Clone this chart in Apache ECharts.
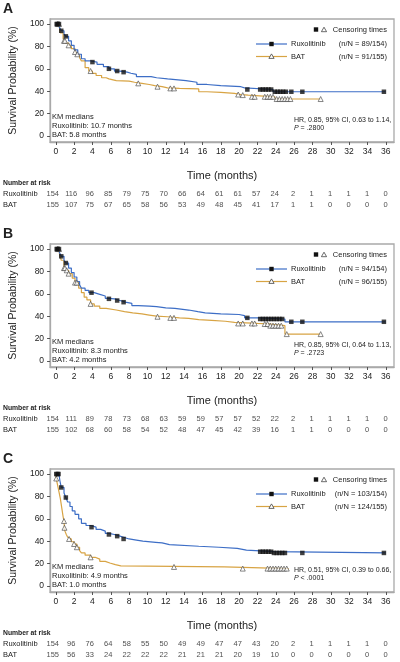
<!DOCTYPE html>
<html><head><meta charset="utf-8">
<script src="https://cdn.jsdelivr.net/npm/echarts@6/dist/echarts.min.js"></script>
<style>html,body{margin:0;padding:0;background:#fff}#c{width:400px;height:662px}</style>
</head><body><div id="c"></div>
<script>
// ---------- data ----------
const months = [0,2,4,6,8,10,12,14,16,18,20,22,24,26,28,30,32,34,36];
const yTicks = [0,20,40,60,80,100];
const panelLetters = ['A','B','C'];

// Panel A (Kaplan-Meier step points: [month, survival %])
const ruxCurveA = [[0,100],[0.4,97],[0.6,94],[0.9,91],[1.1,89],[1.4,85],[1.7,81],[2.0,77],[2.4,73],[2.8,69],[3.2,67],[3.8,66],[4.5,64],[5.2,62],[5.8,60],[6.4,58],[7.0,57],[7.8,56],[8.2,55],[8.8,53],[10.4,52],[11.0,51],[12.2,49.5],[14.2,48],[15.4,46],[16.5,45],[18.0,44],[20.2,43],[20.6,41.5],[23.7,39.5],[36,39.5]];
const batCurveA = [[0,100],[0.4,97],[0.5,92],[0.8,87],[0.9,85],[1.1,83],[1.4,81],[1.7,78],[2.1,75],[2.3,73],[2.6,70],[2.8,67],[3.2,61],[3.6,58],[4.0,56],[4.4,54],[5.0,52],[5.5,51],[5.8,49.5],[6.6,49],[8.0,48],[8.6,47],[9.4,46],[10.2,45],[10.8,44],[11.6,43],[12.2,42.5],[13.5,42],[15.6,39.5],[16.5,39],[18.0,38],[19.5,37],[20.2,36.5],[21.0,35],[23.9,33],[28.9,33]];
const ruxCensorA = [0.1,0.2,0.35,0.6,1.1,4.0,5.8,6.7,7.4,20.9,22.3,22.6,22.9,23.2,23.5,23.9,24.2,24.5,24.8,25.1,25.7,26.9,35.8];
const batCensorA = [0.2,0.35,0.9,1.0,1.4,2.1,2.35,3.8,9.0,11.1,12.5,12.9,19.9,20.4,21.4,21.7,22.8,23.1,23.4,23.7,24.1,24.4,24.7,25.0,25.3,25.6,28.9];
const ruxRiskA = [154,116,96,85,79,75,70,66,64,61,61,57,24,2,1,1,1,1,0];
const batRiskA = [155,107,75,67,65,58,56,53,49,48,45,41,17,1,1,0,0,0,0];

// Panel B
const ruxCurveB = [[0,100],[0.4,97],[0.6,93.5],[0.9,90],[1.1,87.5],[1.4,83],[1.7,79],[2.0,75],[2.3,71],[2.6,68],[2.8,65],[3.2,63],[3.6,61],[4.2,59.5],[4.8,58],[5.4,56],[5.8,55.5],[6.4,54],[7.0,52.5],[7.6,51.5],[8.3,49.5],[9.0,49],[10.2,48.5],[11.0,47.5],[12.0,47],[13.0,45.5],[14.5,44],[15.5,43],[16.3,42],[18.0,41.5],[20.0,40.5],[20.6,38.5],[22.2,37.5],[25.0,35],[36,35]];
const batCurveB = [[0,100],[0.4,96],[0.6,90],[0.9,83],[1.1,81],[1.4,78],[1.8,74],[2.1,70],[2.5,65],[2.8,61],[3.1,57],[3.4,54.5],[3.8,51],[4.2,49],[4.8,47],[5.5,45.5],[6.6,44],[7.5,43],[8.4,42],[9.4,41],[10.2,40],[11.0,39.5],[12.2,38.5],[13.5,38],[14.5,37],[15.6,36.3],[17.0,35.5],[18.5,34.5],[19.5,33.5],[22.0,33],[23.4,31.5],[25.0,24],[28.9,24]];
const ruxCensorB = [0.1,0.2,0.35,0.6,1.1,3.9,5.8,6.7,7.4,20.9,22.3,22.6,22.9,23.2,23.5,23.8,24.1,24.4,24.7,25.7,26.9,35.8];
const batCensorB = [0.2,0.35,0.9,1.0,1.2,1.4,2.1,2.3,3.8,11.1,12.5,12.9,19.9,20.4,21.4,21.7,22.8,23.1,23.4,23.7,24.0,24.3,24.6,25.2,28.9];
const ruxRiskB = [154,111,89,78,73,68,63,59,59,57,57,52,22,2,1,1,1,1,0];
const batRiskB = [155,102,68,60,58,54,52,48,47,45,42,39,16,1,1,0,0,0,0];

// Panel C
const ruxCurveC = [[0,100],[0.35,99],[0.45,94],[0.6,88],[0.9,83],[1.1,79],[1.3,75],[1.55,71],[1.8,67],[2.1,64],[2.5,60],[2.8,56],[3.3,54],[3.8,52.5],[4.4,50.5],[4.9,49],[5.4,47],[5.8,46],[6.4,44.5],[7.0,43.5],[7.4,42],[8.0,41],[8.8,40],[9.5,39],[10.9,38.5],[11.6,37],[12.4,35.5],[15.6,34.6],[17.8,33.6],[19.8,32],[20.8,30.6],[23.8,29.5],[36,29.5]];
const batCurveC = [[0,100],[0.05,96],[0.2,90],[0.35,84],[0.5,78],[0.65,70],[0.8,62],[0.9,58],[0.95,52],[1.0,49],[1.15,46],[1.3,43.5],[1.45,42],[1.7,39.5],[2.0,37.5],[2.3,34.6],[2.6,31.5],[2.8,29.5],[3.2,27.5],[3.8,25.6],[4.3,24],[4.8,22],[5.4,20.5],[5.9,19],[6.5,18],[7.1,17],[18.4,15.5],[25.4,15.5]];
const ruxCensorC = [0.05,0.2,0.3,0.6,1.1,3.9,5.8,6.7,7.4,22.3,22.6,22.9,23.2,23.5,23.8,24.1,24.4,24.7,25.0,26.9,35.8];
const batCensorC = [0.05,0.9,0.95,1.45,2.0,2.3,3.8,12.9,20.4,23.1,23.4,23.7,24.0,24.3,24.6,24.9,25.2];
const ruxRiskC = [154,96,76,64,58,55,50,49,49,47,47,43,20,2,1,1,1,1,0];
const batRiskC = [155,56,33,24,22,22,22,21,21,21,20,19,10,0,0,0,0,0,0];

// Annotation texts
const ruxN = ['89/154','94/154','103/154'];
const batN = ['91/155','96/155','124/155'];
const ruxMedian = ['10.7','8.3','4.9'];
const batMedian = ['5.8','4.2','1.0'];
const hrText = ['HR, 0.85, 95% CI, 0.63 to 1.14,','HR, 0.85, 95% CI, 0.64 to 1.13,','HR, 0.51, 95% CI, 0.39 to 0.66,'];
const pText = ['= .2800','= .2723','< .0001'];

// ---------- build ----------
const FONT = "'Liberation Sans', Arial, sans-serif";
const BLUE = '#3d6ec6';
const GOLD = '#d8a444';
const TXT = '#222';
const panels = [
  {rux:ruxCurveA, bat:batCurveA, rc:ruxCensorA, bc:batCensorA, rr:ruxRiskA, br:batRiskA},
  {rux:ruxCurveB, bat:batCurveB, rc:ruxCensorB, bc:batCensorB, rr:ruxRiskB, br:batRiskB},
  {rux:ruxCurveC, bat:batCurveC, rc:ruxCensorC, bc:batCensorC, rr:ruxRiskC, br:batRiskC}
];
function S(curve, t){ let v = curve[0][1]; for (const p of curve){ if (p[0] <= t) v = p[1]; } return v; }

const XMIN = -0.62, XMAX = 36.9, YMIN = -5.4, YMAX = 104.5;
const STEP = 225;
const grids = [], xAxes = [], yAxes = [], series = [], graphic = [];

panels.forEach((P, i) => {
  const off = STEP * i;
  grids.push({left:47, width:347, top:19+off, height:123, show:true, borderColor:'#a9a9a9', borderWidth:1.3, containLabel:false});
  xAxes.push({type:'value', gridIndex:i, min:XMIN, max:XMAX,
    axisLine:{show:true, onZero:false, lineStyle:{color:'#a9a9a9', width:1.3}},
    axisTick:{show:true, length:3, customValues:months, lineStyle:{color:'#555'}},
    axisLabel:{customValues:months, fontSize:8.5, color:TXT, margin:5, fontFamily:FONT},
    splitLine:{show:false},
    name:'Time (months)', nameLocation:'middle', nameGap:28,
    nameTextStyle:{fontSize:11, color:TXT, fontFamily:FONT}});
  yAxes.push({type:'value', gridIndex:i, min:YMIN, max:YMAX,
    axisLine:{show:true, onZero:false, lineStyle:{color:'#a9a9a9', width:1.3}},
    axisTick:{show:true, length:3, customValues:yTicks, lineStyle:{color:'#555'}},
    axisLabel:{customValues:yTicks, fontSize:8.5, color:TXT, margin:6, fontFamily:FONT},
    splitLine:{show:false},
    name:'Survival Probability (%)', nameLocation:'middle', nameGap:28,
    nameTextStyle:{fontSize:10.5, color:TXT, fontFamily:FONT}});

  series.push({type:'line', xAxisIndex:i, yAxisIndex:i, step:'end', data:P.bat, showSymbol:false, symbol:'none',
    lineStyle:{color:GOLD, width:1.2}, animation:false, silent:true, z:2});
  series.push({type:'line', xAxisIndex:i, yAxisIndex:i, step:'end', data:P.rux, showSymbol:false, symbol:'none',
    lineStyle:{color:BLUE, width:1.2}, animation:false, silent:true, z:3});
  series.push({type:'scatter', xAxisIndex:i, yAxisIndex:i, data:P.bc.map(t => [t, S(P.bat, t)]),
    symbol:'triangle', symbolSize:5, itemStyle:{color:'#fff', borderColor:'#444', borderWidth:0.8}, animation:false, silent:true, z:4});
  series.push({type:'scatter', xAxisIndex:i, yAxisIndex:i, data:P.rc.map(t => [t, S(P.rux, t)]),
    symbol:'rect', symbolSize:4.5, itemStyle:{color:'#111'}, animation:false, silent:true, z:5});
});

// number-at-risk tables
panels.forEach((P, i) => {
  const off = STEP * i;
  const gi = 3 + i;
  grids.push({left:47, width:347, top:188+off, height:22, show:false});
  xAxes.push({type:'value', gridIndex:gi, min:XMIN, max:XMAX, show:false});
  yAxes.push({type:'category', gridIndex:gi, data:['BAT','Ruxolitinib'],
    axisLine:{show:false}, axisTick:{show:false}, splitLine:{show:false},
    axisLabel:{align:'left', margin:44, fontSize:7.5, color:TXT, fontFamily:FONT}});
  const mk = (arr, name) => arr.map((n, k) => [months[k], name, n]);
  [[P.rr,'Ruxolitinib'],[P.br,'BAT']].forEach(([arr,name]) => {
    series.push({type:'scatter', xAxisIndex:gi, yAxisIndex:gi, data:mk(arr,name), symbolSize:1,
      itemStyle:{color:'rgba(0,0,0,0)'}, animation:false, silent:true,
      label:{show:true, position:'inside', formatter:p => String(p.data[2]), fontSize:7.5, color:TXT, fontFamily:FONT}});
  });
});

function txt(x, y, text, opts){
  const o = Object.assign({fontSize:7.5, fontWeight:'normal', align:'left'}, opts||{});
  return {type:'text', x:x, y:y, silent:true, z:10, style:{text:text, fontSize:o.fontSize, fontWeight:o.fontWeight,
    fontFamily:FONT, fill:TXT, textAlign:o.align, align:o.align, textVerticalAlign:'middle', verticalAlign:'middle', rich:o.rich}};
}
function tri(cx, cy){
  return {type:'polygon', silent:true, z:11, shape:{points:[[cx,cy-2.6],[cx+2.6,cy+1.9],[cx-2.6,cy+1.9]]},
    style:{fill:'#fff', stroke:'#444', lineWidth:0.8}};
}
function sq(cx, cy){
  return {type:'rect', silent:true, z:11, shape:{x:cx-2.2, y:cy-2.2, width:4.4, height:4.4}, style:{fill:'#111'}};
}

panels.forEach((P, i) => {
  const off = STEP * i;
  graphic.push(txt(3, 9.5+off, panelLetters[i], {fontSize:14, fontWeight:'bold'}));
  graphic.push(txt(3, 183+off, 'Number at risk', {fontSize:6.8, fontWeight:'bold'}));
  // KM medians
  graphic.push(txt(52, 117+off, 'KM medians'));
  graphic.push(txt(52, 126+off, 'Ruxolitinib: ' + ruxMedian[i] + ' months'));
  graphic.push(txt(52, 135+off, 'BAT: ' + batMedian[i] + ' months'));
  // HR
  graphic.push(txt(294, 120+off, hrText[i], {fontSize:7}));
  graphic.push(txt(294, 128.5+off, '{i|P} ' + pText[i], {fontSize:7, rich:{i:{fontStyle:'italic', fontSize:7, fontFamily:FONT, fill:TXT}}}));
  // legend
  graphic.push(sq(316, 29.5+off));
  graphic.push(tri(324, 29.8+off));
  graphic.push(txt(387, 29.5+off, 'Censoring times', {align:'right'}));
  graphic.push({type:'line', silent:true, z:10, shape:{x1:256, y1:44+off, x2:287, y2:44+off}, style:{stroke:BLUE, lineWidth:1.2}});
  graphic.push(sq(271.5, 44+off));
  graphic.push(txt(291, 44+off, 'Ruxolitinib'));
  graphic.push(txt(387, 44+off, '(n/N = ' + ruxN[i] + ')', {align:'right'}));
  graphic.push({type:'line', silent:true, z:10, shape:{x1:256, y1:56.5+off, x2:287, y2:56.5+off}, style:{stroke:GOLD, lineWidth:1.2}});
  graphic.push(tri(271.5, 56.5+off));
  graphic.push(txt(291, 56.5+off, 'BAT'));
  graphic.push(txt(387, 56.5+off, '(n/N = ' + batN[i] + ')', {align:'right'}));
});

const chart = echarts.init(document.getElementById('c'), null, {renderer:'canvas'});
chart.setOption({
  animation:false,
  backgroundColor:'#fff',
  textStyle:{fontFamily:FONT},
  grid:grids, xAxis:xAxes, yAxis:yAxes, series:series, graphic:graphic
});
</script>
</body></html>
